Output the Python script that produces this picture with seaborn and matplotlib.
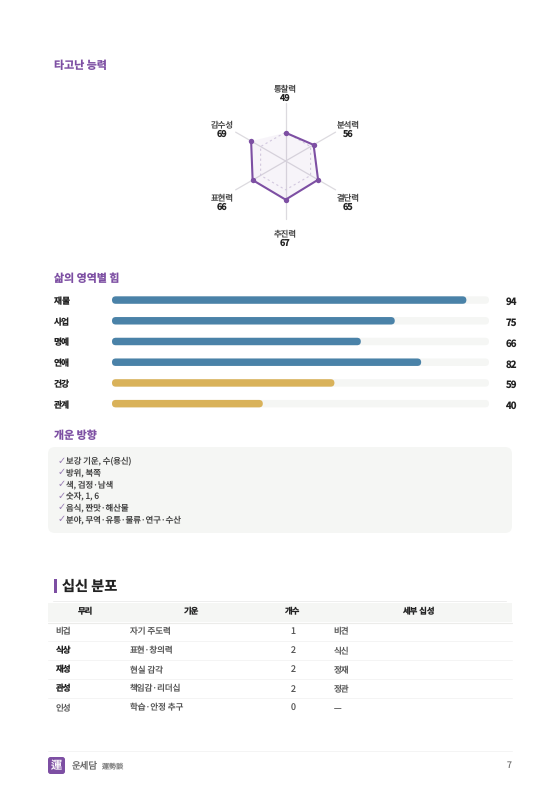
import numpy as np
import pandas as pd
import seaborn as sns
import matplotlib.pyplot as plt
from matplotlib.patches import FancyBboxPatch, Rectangle
from matplotlib.transforms import Affine2D

sns.set_theme(style="white")
plt.rcParams['font.family'] = ['Noto Sans CJK KR', 'Noto Sans CJK JP', 'DejaVu Sans']
plt.rcParams['text.hinting'] = 'no_hinting'

# radar data
radar_labels = ["통찰력", "분석력", "결단력", "추진력", "표현력", "감수성"]
radar_values = [49, 56, 65, 67, 66, 69]
radar_grid = [50, 50, 50, 50, 50, 50]

# bar data
area_labels = ["재물", "사업", "명예", "연애", "건강", "관계"]
area_values = [94, 75, 66, 82, 59, 40]
area_groups = ["high", "high", "high", "high", "low", "low"]

tips = ["보강 기운, 수(용신)", "방위, 북쪽", "색, 검정·남색", "숫자, 1, 6",
        "음식, 짠맛·해산물", "분야, 무역·유통·물류·연구·수산"]

# table data
col_heads = ["무리", "기운", "개수", "세부 십성"]
groups = ["비겁", "식상", "재성", "관성", "인성"]
energies = ["자기 주도력", "표현·창의력", "현실 감각", "책임감·리더십", "학습·안정 추구"]
counts = ["1", "2", "2", "2", "0"]
details = ["비견", "식신", "정재", "정관", "—"]
bold_groups = ["식상", "재성", "관성"]

PURPLE = "#7d4fa3"
W, H = 560, 791
fig = plt.figure(figsize=(W / 100, H / 100), dpi=100, facecolor="white")
bg = fig.add_axes([0, 0, 1, 1])
bg.set_xlim(0, W)
bg.set_ylim(H, 0)
bg.axis("off")

def heading(x, y, s):
    bg.text(x, y, s, color=PURPLE, fontsize=7.9, fontweight="bold", va="baseline")

heading(53.5, 69.3, "타고난 능력")
heading(53.5, 282, "삶의 영역별 힘")
heading(53.5, 439.3, "개운 방향")

# radar
R = 57.7
cx, cy = 285.6, 161
ax = fig.add_axes([(cx - R) / W, 1 - (cy + R) / H, 2 * R / W, 2 * R / H], projection="polar")
ax.set_theta_zero_location("N")
ax.set_theta_direction(-1)
ax.set_ylim(0, 100)
angles = np.deg2rad(np.arange(6) * 60.0)
theta = np.append(angles, angles[0])
for t in angles:
    ax.plot([t, t], [0, 100], color="#dcdadf", lw=0.9, clip_on=False, zorder=1)
ax.plot(theta, radar_grid + radar_grid[:1], color="#d8d0e2", lw=0.8, ls=(0, (2, 2.5)), zorder=2)
closed = radar_values + radar_values[:1]
ax.fill(theta, closed, color=PURPLE, alpha=0.06, lw=0, zorder=2)
radar_df = pd.DataFrame({"theta": theta, "value": closed})
sns.lineplot(data=radar_df, x="theta", y="value", sort=False, color=PURPLE, lw=1.5,
             ax=ax, zorder=3, legend=False)
sns.scatterplot(x=angles, y=radar_values, color=PURPLE, s=15, linewidth=0, ax=ax, zorder=4, legend=False)
ax.set_ylim(0, 100)
ax.axis("off")
label_pos = [(285.5, 91.3), (348, 127.5), (348, 200), (285.5, 236), (222.5, 200), (222.5, 127.5)]
for (x, y), name, v in zip(label_pos, radar_labels, radar_values):
    bg.text(x, y, name, ha="center", va="baseline", fontsize=6.0, color="#444444")
    bg.text(x, y + 9.7, str(v), ha="center", va="baseline", fontsize=6.5, color="#222222", fontweight="bold")

# bars
x0, x1 = 112, 489
top, bot = 289.7, 414
bax = fig.add_axes([x0 / W, 1 - bot / H, (x1 - x0) / W, (bot - top) / H])
area_df = pd.DataFrame({"area": area_labels, "value": area_values, "group": area_groups, "track": 100})
sns.barplot(data=area_df, y="area", x="track", color="#f5f6f4", width=0.36, saturation=1, ax=bax)
sns.barplot(data=area_df, y="area", x="value", hue="group", dodge=False, width=0.36, saturation=1,
            palette={"high": "#4a82a8", "low": "#d9b25a"}, legend=False, ax=bax)
bax.set_xlim(0, 100)
bax.axis("off")
# round the bar ends
for bar in list(bax.patches):
    bx, by, bw, bh = bar.get_x(), bar.get_y(), bar.get_width(), bar.get_height()
    if bw <= 0:
        continue
    px = bw / 100 * (x1 - x0)
    rnd = FancyBboxPatch((0, 0), px, 7.6, boxstyle="round,pad=0,rounding_size=3.8",
                         fc=bar.get_facecolor(), ec="none")
    rnd.set_transform(Affine2D().scale(bw / px, bh / 7.6).translate(bx, by) + bax.transData)
    bax.add_patch(rnd)
    bar.set_visible(False)
for i, (name, v) in enumerate(zip(area_labels, area_values)):
    bg.text(53.5, 304 + i * 20.75, name, va="baseline", fontsize=6.3, color="#222222", fontweight="bold")
    bg.text(517, 305.2 + i * 20.75, str(v), va="baseline", ha="right", fontsize=7, color="#222222", fontweight="bold")

# tips box
bg.add_patch(FancyBboxPatch((48, 447), 464, 86, boxstyle="round,pad=0,rounding_size=7",
                            fc="#f5f6f4", ec="none"))
for i, s in enumerate(tips):
    y = 463.7 + i * 11.67
    bg.text(57.5, y, "✓", va="baseline", fontsize=7, color="#9a7fb5", family=['DejaVu Sans'])
    bg.text(66, y, s, va="baseline", fontsize=6.0, color="#444444")

# section title
bg.add_patch(Rectangle((53.5, 578.5), 3, 14, fc=PURPLE, ec="none"))
bg.text(62, 590.8, "십신 분포", va="baseline", fontsize=10.2, color="#222222", fontweight="bold")

# table
bg.plot([53, 506], [600.5, 600.5], color="#eeeeee", lw=0.7)
bg.add_patch(Rectangle((48, 603), 464, 19, fc="#f5f6f4", ec="none"))
bg.plot([48, 512], [622.5, 622.5], color="#ececea", lw=0.8)
col_x = [85, 191.5, 293, 418.5]
for x, s in zip(col_x, col_heads):
    bg.text(x, 614, s, ha="center", va="baseline", fontsize=6.0, color="#222222", fontweight="bold")
row_step = 19.2
for i in range(5):
    y = 634 + i * row_step
    is_bold = groups[i] in bold_groups
    bg.text(55.5, y, groups[i], va="baseline", fontsize=6.1, color="#222222" if is_bold else "#555555",
            fontweight="bold" if is_bold else "normal")
    bg.text(129.5, y, energies[i], va="baseline", fontsize=6.1, color="#555555")
    bg.text(293.3, y, counts[i], va="baseline", ha="center", fontsize=6.4, color="#555555")
    bg.text(333.8, y, details[i], va="baseline", fontsize=6.1, color="#555555")
    if i < 4:
        bg.plot([48, 512], [y + 6.6, y + 6.6], color="#f2f2f2", lw=0.6)

# footer
bg.plot([48, 512], [751, 751], color="#f4f4f4", lw=0.7)
bg.add_patch(FancyBboxPatch((48, 757), 17, 17, boxstyle="round,pad=0,rounding_size=2.5",
                            fc=PURPLE, ec="none"))
bg.text(56.5, 769, "運", ha="center", va="baseline", fontsize=8, color="white")
bg.text(72, 768.5, "운세담", va="baseline", fontsize=6.8, color="#666666")
bg.text(102, 768, "運勢談", va="baseline", fontsize=5.1, color="#888888")
bg.text(512, 768.5, "7", va="baseline", ha="right", fontsize=6.3, color="#777777")

fig.savefig("out.png", dpi=100)
